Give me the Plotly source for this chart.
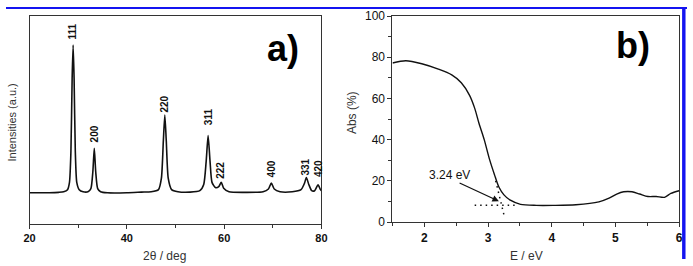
import plotly.graph_objects as go

# ---------------- Panel a: XRD pattern ----------------
two_theta = [20, 24, 26, 27, 27.8, 28.2, 28.5, 28.75, 28.95, 29.15, 29.4, 29.7, 30.2, 31, 32,
             32.6, 33.0, 33.3, 33.6, 34.0, 34.6, 36, 40, 43, 45, 46.5, 47.1, 47.5, 47.8, 48.1,
             48.5, 49.2, 50.5, 53, 55, 55.8, 56.3, 56.7, 57.1, 57.5, 58.2, 58.9, 59.4, 59.9,
             61, 64, 68, 69.1, 69.7, 70.3, 71.5, 74, 75.8, 76.5, 76.9, 77.4, 78.0, 78.6,
             79.3, 79.8, 80]
intensity = [15, 15, 15.2, 15.5, 16.5, 20, 35, 70, 86, 70, 35, 20, 16.5, 15.5, 15.5,
             17, 25, 36.4, 25, 17, 15.5, 15, 15, 15.3, 15.5, 16.5, 22, 40, 52.4, 40,
             22, 16.5, 15.5, 15.3, 16, 19, 30, 42.5, 30, 20, 17.5, 18, 20, 17.2,
             15.5, 15.2, 15.5, 16.8, 19.7, 16.8, 15.5, 15.5, 16.5, 19.5, 22.3, 19, 16, 16,
             18.8, 16.5, 16]

peak_labels = ["111", "200", "220", "311", "222", "400", "331", "420"]
peak_label_x = [28.9, 33.3, 47.8, 56.7, 59.1, 69.7, 76.7, 79.3]
peak_label_y = [92.5, 43.2, 57.8, 51.4, 25.9, 26.4, 27.3, 26.4]

xa_ticks = [20, 40, 60, 80]

# ---------------- Panel b: absorption ----------------
energy = [1.5, 1.71, 1.96, 2.22, 2.43, 2.58, 2.71, 2.79, 2.86, 2.94, 3.02, 3.10, 3.17, 3.25,
          3.35, 3.51, 3.76, 4.02, 4.38, 4.74, 4.90, 5.02, 5.13, 5.26, 5.38, 5.51, 5.64,
          5.77, 5.87, 6.0]
absorb = [77.2, 78.3, 76.8, 74.2, 71.4, 67.6, 61.5, 55.3, 47.7, 40.0, 30.8, 23.1, 17.0, 13.2,
          10.6, 8.6, 8.1, 8.1, 8.4, 9.8, 11.6, 13.6, 14.7, 14.7, 13.6, 12.4, 12.4,
          12.0, 13.9, 15.2]

base_line_x = [2.79, 3.48]
base_line_y = [8.1, 8.1]
tangent_x = [3.12, 3.25]
tangent_y = [20.0, 3.5]

gap_label = "3.24 eV"
gap_text_pos = (2.39, 23)
arrow_tail = (2.53, 19.3)
arrow_head = (3.17, 10.1)

fig = go.Figure()

line_col = "#111111"
axis_col = "#333333"

fig.add_trace(go.Scatter(x=two_theta, y=intensity, mode="lines", xaxis="x", yaxis="y",
                         line=dict(color=line_col, width=1.6, shape="spline", smoothing=0.6),
                         showlegend=False))
fig.add_trace(go.Scatter(x=energy, y=absorb, mode="lines", xaxis="x2", yaxis="y2",
                         line=dict(color=line_col, width=1.4, shape="spline", smoothing=0.8),
                         showlegend=False))
fig.add_trace(go.Scatter(x=base_line_x, y=base_line_y, mode="lines", xaxis="x2", yaxis="y2",
                         line=dict(color=line_col, width=1.5, dash="1.5px,4px"), showlegend=False))
fig.add_trace(go.Scatter(x=tangent_x, y=tangent_y, mode="lines", xaxis="x2", yaxis="y2",
                         line=dict(color=line_col, width=1.5, dash="1.5px,4px"), showlegend=False))

font_a = "Liberation Sans, Arial, sans-serif"

ann = []
for t, x, y in zip(peak_labels, peak_label_x, peak_label_y):
    ann.append(dict(x=x, y=y, xref="x", yref="y", text="<b>%s</b>" % t, showarrow=False,
                    textangle=-90, xanchor="center", yanchor="middle",
                    font=dict(family=font_a, size=10, color="#111")))
ann.append(dict(x=72.1, y=84.3, xref="x", yref="y", text="<b>a)</b>", showarrow=False,
                xanchor="center", yanchor="middle",
                font=dict(family=font_a, size=36, color="#000")))
ann.append(dict(x=5.28, y=85.5, xref="x2", yref="y2", text="<b>b)</b>", showarrow=False,
                xanchor="center", yanchor="middle",
                font=dict(family=font_a, size=36, color="#000")))
ann.append(dict(x=gap_text_pos[0], y=gap_text_pos[1], xref="x2", yref="y2", text=gap_label,
                showarrow=False, xanchor="center", yanchor="middle",
                font=dict(family=font_a, size=12, color="#111")))
ann.append(dict(x=arrow_head[0], y=arrow_head[1], ax=arrow_tail[0], ay=arrow_tail[1],
                xref="x2", yref="y2", axref="x2", ayref="y2", text="", showarrow=True,
                arrowhead=2, arrowsize=1, arrowwidth=1.3, arrowcolor="#111"))
# axis titles
title_font = dict(family=font_a, size=12, color="#333")
ann.append(dict(x=6/693, y=1 - 122/266, xref="paper", yref="paper", text="Intensities (a.u.)",
                showarrow=False, textangle=-90, xanchor="center", yanchor="middle",
                font=dict(family=font_a, size=11, color="#333")))
ann.append(dict(x=161/693, y=1 - 257/266, xref="paper", yref="paper", text="2θ / deg",
                showarrow=False, xanchor="center", yanchor="middle", yshift=-6,
                font=title_font))
ann.append(dict(x=352/693, y=1 - 111/266, xref="paper", yref="paper", text="Abs (%)",
                showarrow=False, textangle=-90, xanchor="center", yanchor="middle",
                font=title_font))
ann.append(dict(x=530/693, y=1 - 257/266, xref="paper", yref="paper", text="E / eV",
                showarrow=False, xanchor="center", yanchor="middle", yshift=-6,
                font=title_font))

shapes = [
    dict(type="rect", xref="paper", yref="paper", x0=0, x1=1, y0=1 - 2.2/266, y1=1,
         fillcolor="#1414f0", line=dict(width=0), layer="above"),
    dict(type="rect", xref="paper", yref="paper", x0=688/693, x1=691.5/693, y0=0, y1=1,
         fillcolor="#1414f0", line=dict(width=0), layer="above"),
]

ax_common = dict(showline=True, linecolor=axis_col, linewidth=1.2, mirror=True,
                 showgrid=False, zeroline=False, ticks="outside", tickcolor=axis_col,
                 ticklen=4, tickwidth=1.2)

fig.update_layout(
    width=693, height=266, margin=dict(l=0, r=0, t=0, b=0),
    paper_bgcolor="white", plot_bgcolor="white",
    xaxis=dict(domain=[24/693, 321/693], range=[20, 80], tickvals=xa_ticks,
               minor=dict(dtick=10, tick0=20, ticks="outside", ticklen=3, tickcolor=axis_col),
               tickfont=dict(family=font_a, size=11, color="#111", weight="bold"),
               anchor="y", **ax_common),
    yaxis=dict(domain=[1 - 229/266, 1 - 9.5/266], range=[0, 100], showticklabels=False,
               anchor="x", **{**ax_common, "ticks": ""}),
    xaxis2=dict(domain=[393.3/693, 685/693], range=[1.5, 6], dtick=1, tick0=0,
                minor=dict(dtick=0.5, tick0=0, ticks="outside", ticklen=3, tickcolor=axis_col),
                tickfont=dict(family=font_a, size=12, color="#111", weight="bold"),
                anchor="y2", **ax_common),
    yaxis2=dict(domain=[1 - 227/266, 1 - 9.5/266], range=[0, 100], dtick=20,
                minor=dict(dtick=10, ticks="outside", ticklen=3, tickcolor=axis_col),
                tickfont=dict(family=font_a, size=12, color="#111"),
                anchor="x2", **ax_common),
    annotations=ann, shapes=shapes,
)

fig.write_html("out.html")
